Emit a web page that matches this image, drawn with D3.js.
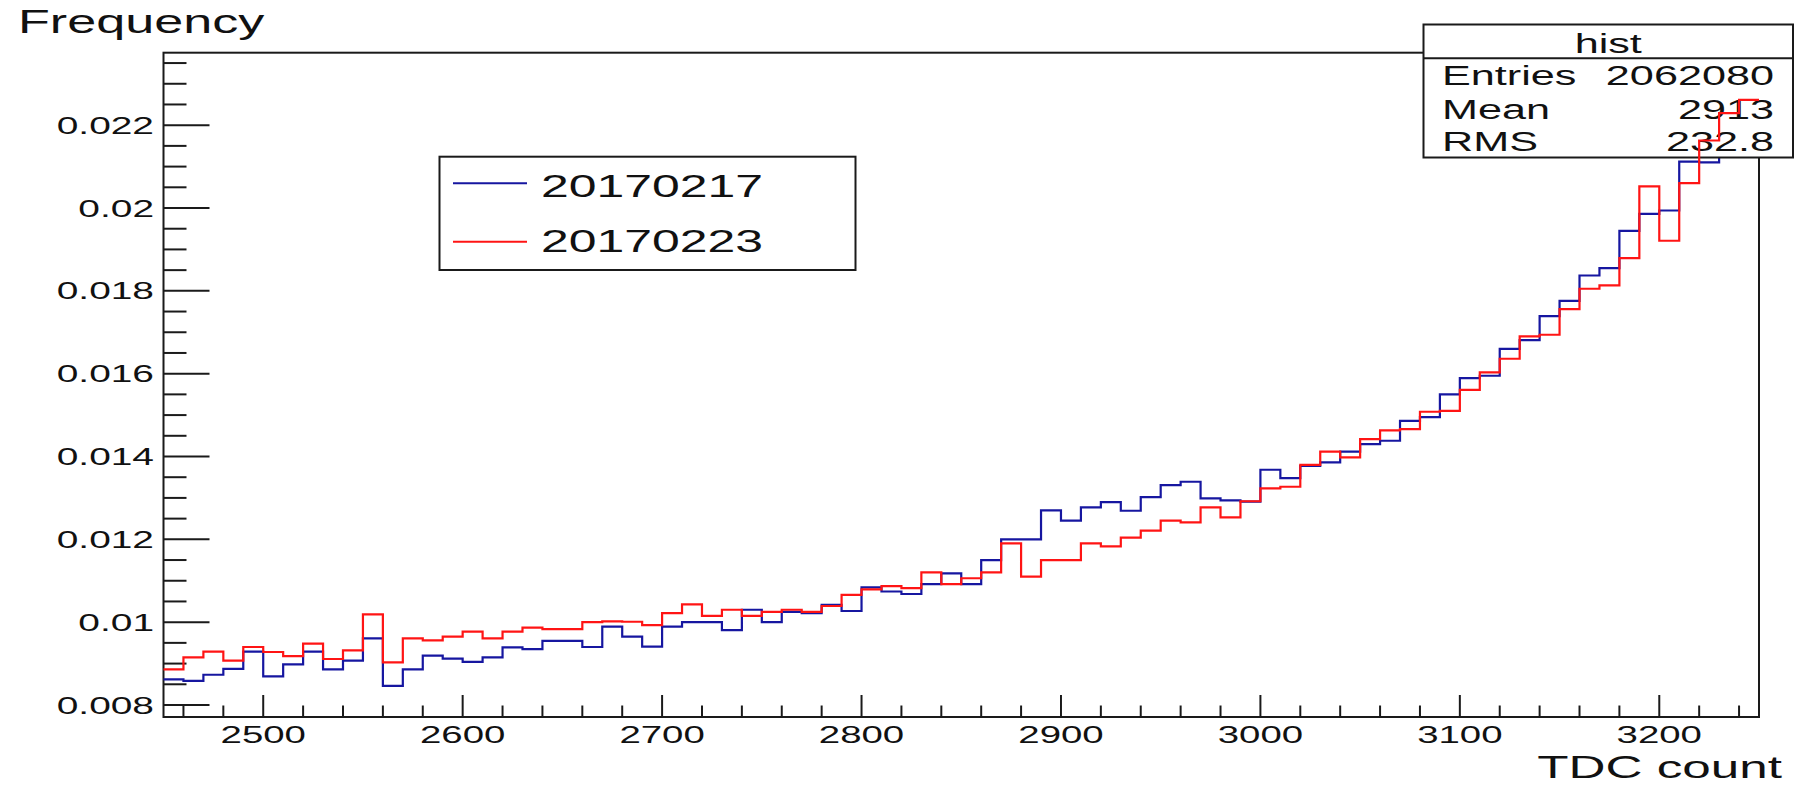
<!DOCTYPE html>
<html>
<head>
<meta charset="utf-8">
<script src="https://cdn.jsdelivr.net/npm/d3@7/dist/d3.min.js"></script>
<style>
  html, body { margin: 0; padding: 0; background: #fff; }
  svg { display: block; }
  text { font-family: "Liberation Sans", Arial, Helvetica, sans-serif; fill: #111; }
</style>
</head>
<body>
<svg id="chart" width="1794" height="785"></svg>
<script>
// TDC count histograms, 10-count bins from 2450 to 3250 (normalised frequency)
const binStart = 2450;
const binWidth = 10;
const runLabels = ["20170217", "20170223"];

const freq20170217 = [
  0.00862, 0.00858, 0.00873, 0.00887, 0.00929, 0.00869, 0.00898, 0.00929, 0.00886, 0.00907,
  0.00961, 0.00846, 0.00886, 0.00919, 0.00912, 0.00904, 0.00915, 0.00939, 0.00935, 0.00955,
  0.00955, 0.00940, 0.00989, 0.00965, 0.00941, 0.00989, 0.01000, 0.01000, 0.00981, 0.01030,
  0.01000, 0.01025, 0.01022, 0.01042, 0.01027, 0.01084, 0.01074, 0.01068, 0.01092, 0.01118,
  0.01092, 0.01150, 0.01200, 0.01200, 0.01270, 0.01245, 0.01277, 0.01290, 0.01269, 0.01302,
  0.01331, 0.01339, 0.01299, 0.01294, 0.01291, 0.01368, 0.01348, 0.01377, 0.01386, 0.01412,
  0.01430, 0.01438, 0.01486, 0.01495, 0.01550, 0.01589, 0.01595, 0.01660, 0.01681, 0.01739,
  0.01776, 0.01837, 0.01855, 0.01945, 0.01986, 0.01994, 0.02112, 0.02110, 0.02210, 0.02250
];

const freq20170223 = [
  0.00886, 0.00915, 0.00929, 0.00907, 0.00940, 0.00928, 0.00918, 0.00948, 0.00911, 0.00932,
  0.01019, 0.00903, 0.00961, 0.00956, 0.00965, 0.00977, 0.00961, 0.00977, 0.00987, 0.00983,
  0.00983, 0.01000, 0.01002, 0.01001, 0.00993, 0.01022, 0.01043, 0.01015, 0.01030, 0.01015,
  0.01025, 0.01030, 0.01025, 0.01039, 0.01066, 0.01079, 0.01087, 0.01082, 0.01120, 0.01092,
  0.01106, 0.01120, 0.01190, 0.01110, 0.01150, 0.01150, 0.01190, 0.01183, 0.01204, 0.01221,
  0.01245, 0.01241, 0.01277, 0.01253, 0.01292, 0.01323, 0.01327, 0.01380, 0.01412, 0.01398,
  0.01442, 0.01463, 0.01466, 0.01508, 0.01510, 0.01561, 0.01603, 0.01636, 0.01690, 0.01694,
  0.01756, 0.01805, 0.01813, 0.01879, 0.02052, 0.01921, 0.02060, 0.02163, 0.02229, 0.02261
];

const xTickValues = [2500, 2600, 2700, 2800, 2900, 3000, 3100, 3200];
const xTickLabels = ["2500", "2600", "2700", "2800", "2900", "3000", "3100", "3200"];
const yTickValues = [0.008, 0.010, 0.012, 0.014, 0.016, 0.018, 0.020, 0.022];
const yTickLabels = ["0.008", "0.01", "0.012", "0.014", "0.016", "0.018", "0.02", "0.022"];

const statName = "hist";
const statKeys = ["Entries", "Mean", "RMS"];
const statValues = ["2062080", "2913", "232.8"];

const xTitle = "TDC count";
const yTitle = "Frequency";

// ---- layout ----
const frame = { left: 163.5, right: 1759, top: 52.7, bottom: 717 };
const SX = 1.6;              // horizontal stretch of all lettering
const blue = "#1616a0";
const red = "#ff1414";

const svg = d3.select("#chart");

const x = d3.scaleLinear().domain([binStart, binStart + binWidth * freq20170217.length])
  .range([frame.left, frame.right]);
const y = d3.scaleLinear().domain([0.00771, 0.02375]).range([frame.bottom, frame.top]);

function label(parent, px, py, str, size, anchor) {
  return parent.append("text")
    .attr("transform", `translate(${px},${py}) scale(${SX},1)`)
    .attr("text-anchor", anchor || "start")
    .style("font-size", size + "px")
    .text(str);
}

// frame
svg.append("rect")
  .attr("x", frame.left).attr("y", frame.top)
  .attr("width", frame.right - frame.left).attr("height", frame.bottom - frame.top)
  .attr("fill", "none").attr("stroke", "#1a1a1a").attr("stroke-width", 2);

// x axis: ticks point up into the frame
const xAxisG = svg.append("g").attr("stroke", "#1a1a1a").attr("stroke-width", 2);
const xMinor = d3.range(2460, 3250, 20).filter(v => !xTickValues.includes(v));
xAxisG.selectAll("line.minor").data(xMinor).join("line")
  .attr("x1", d => x(d)).attr("x2", d => x(d))
  .attr("y1", frame.bottom).attr("y2", frame.bottom - 11.5);
xAxisG.selectAll("line.major").data(xTickValues).join("line")
  .attr("x1", d => x(d)).attr("x2", d => x(d))
  .attr("y1", frame.bottom).attr("y2", frame.bottom - 22);
xTickValues.forEach((v, i) => label(svg, x(v), 743, xTickLabels[i], 24, "middle"));

// y axis: ticks point right into the frame
const yAxisG = svg.append("g").attr("stroke", "#1a1a1a").attr("stroke-width", 2);
const yMinor = d3.range(0, 32).map(i => 0.008 + i * 0.0005)
  .filter(v => v <= y.domain()[1] && !yTickValues.some(t => Math.abs(t - v) < 1e-9));
yAxisG.selectAll("line.minor").data(yMinor).join("line")
  .attr("x1", frame.left).attr("x2", frame.left + 23)
  .attr("y1", d => y(d)).attr("y2", d => y(d));
yAxisG.selectAll("line.major").data(yTickValues).join("line")
  .attr("x1", frame.left).attr("x2", frame.left + 46)
  .attr("y1", d => y(d)).attr("y2", d => y(d));
yTickValues.forEach((v, i) => label(svg, 154, y(v) + 8.6, yTickLabels[i], 24.3, "end"));

// axis titles
label(svg, 18, 33, yTitle, 32.6, "start");
label(svg, 1782, 778, xTitle, 32, "end");

// step outline of a histogram
function stepPath(values) {
  const pts = values.map((v, i) => [binStart + i * binWidth, v]);
  pts.push([binStart + values.length * binWidth, values[values.length - 1]]);
  return d3.line().x(d => x(d[0])).y(d => y(d[1])).curve(d3.curveStepAfter)(pts);
}

svg.append("path").attr("d", stepPath(freq20170217))
  .attr("fill", "none").attr("stroke", blue).attr("stroke-width", 2.2);

// statistics box
const stat = { left: 1423.5, right: 1793, top: 24.5, bottom: 157.5, sep: 58.3 };
const statG = svg.append("g");
statG.append("rect")
  .attr("x", stat.left).attr("y", stat.top)
  .attr("width", stat.right - stat.left).attr("height", stat.bottom - stat.top)
  .attr("fill", "#fff").attr("stroke", "#1a1a1a").attr("stroke-width", 2);
statG.append("line")
  .attr("x1", stat.left).attr("x2", stat.right).attr("y1", stat.sep).attr("y2", stat.sep)
  .attr("stroke", "#1a1a1a").attr("stroke-width", 2);
label(statG, (stat.left + stat.right) / 2, 53, statName, 27, "middle");
const statBaselines = [85, 119, 150.7];
statKeys.forEach((k, i) => {
  label(statG, 1442, statBaselines[i], k, 27, "start");
  label(statG, 1774, statBaselines[i], statValues[i], 27, "end");
});

svg.append("path").attr("d", stepPath(freq20170223))
  .attr("fill", "none").attr("stroke", red).attr("stroke-width", 2.2);

// legend
const leg = { left: 439.5, right: 855.5, top: 156.7, bottom: 270 };
const legG = svg.append("g");
legG.append("rect")
  .attr("x", leg.left).attr("y", leg.top)
  .attr("width", leg.right - leg.left).attr("height", leg.bottom - leg.top)
  .attr("fill", "#fff").attr("stroke", "#1a1a1a").attr("stroke-width", 2);
const legRows = [
  { name: runLabels[0], color: blue, ly: 183.3, ty: 196.7 },
  { name: runLabels[1], color: red, ly: 241.7, ty: 252.3 }
];
legRows.forEach(r => {
  legG.append("line")
    .attr("x1", 453).attr("x2", 527).attr("y1", r.ly).attr("y2", r.ly)
    .attr("stroke", r.color).attr("stroke-width", 2);
  label(legG, 541, r.ty, r.name, 31.2, "start");
});
</script>
</body>
</html>
